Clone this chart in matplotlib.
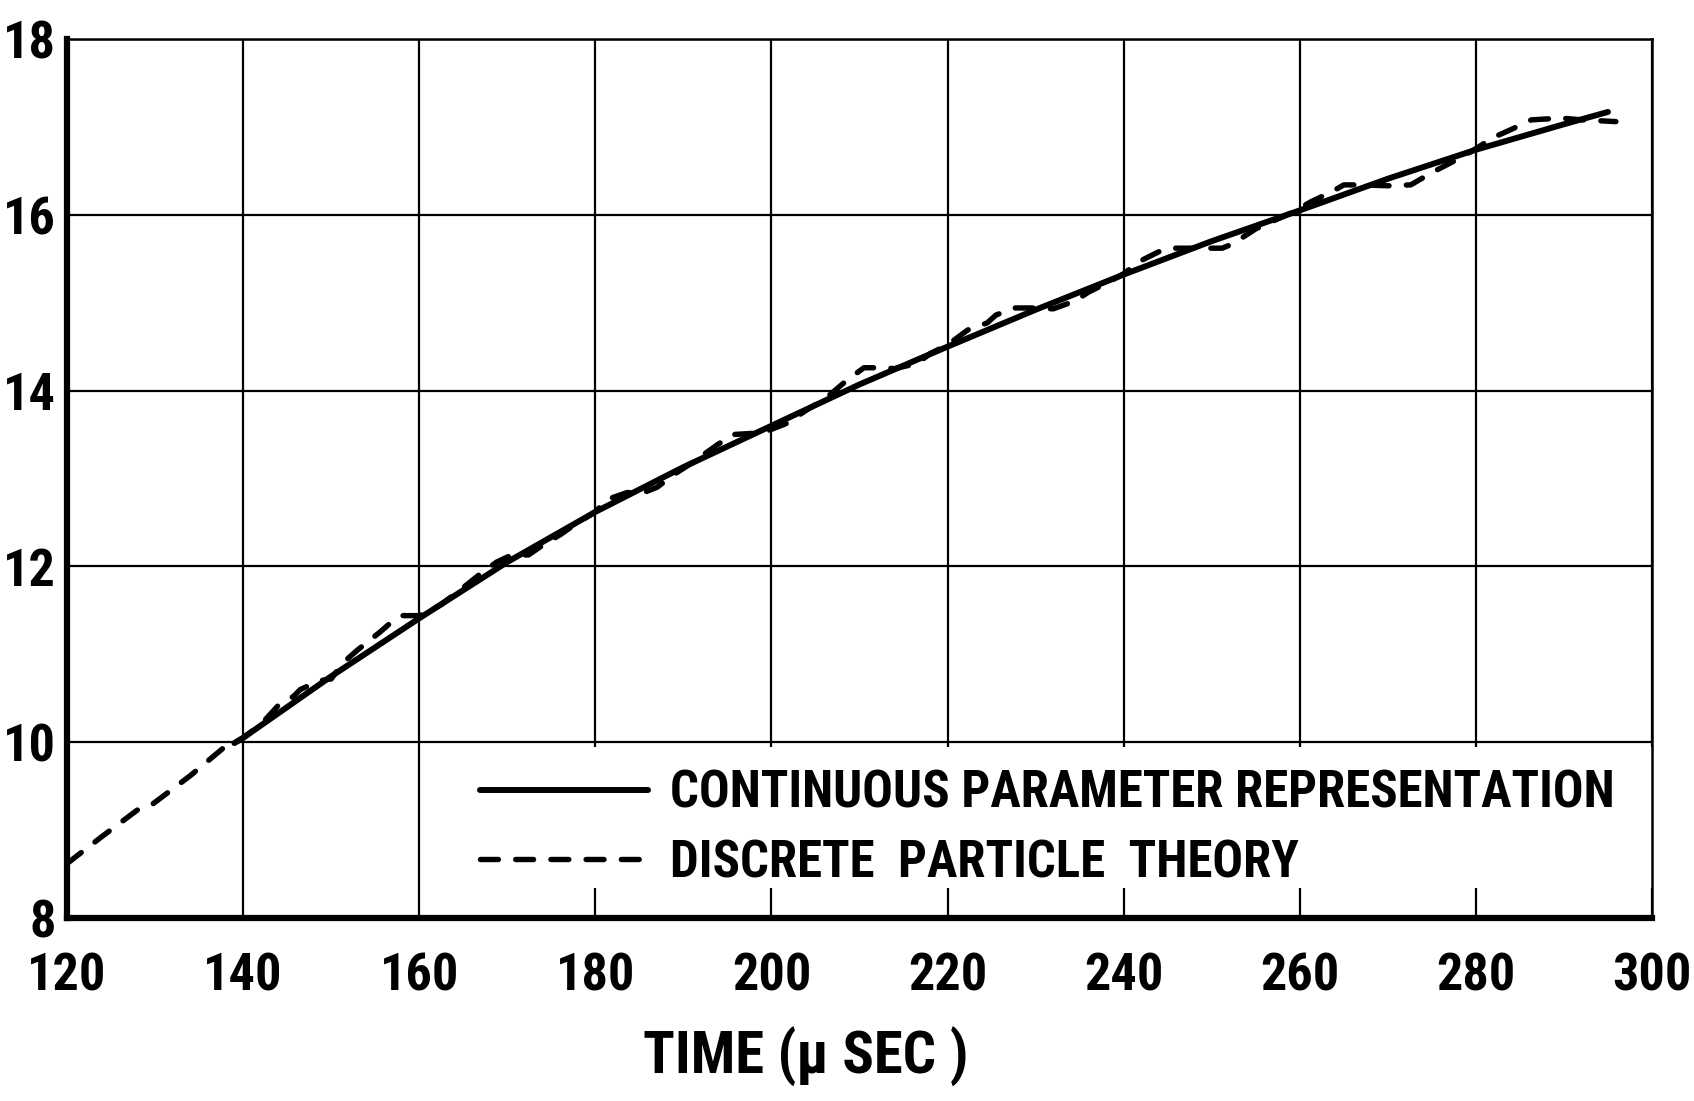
import math
import matplotlib
matplotlib.use('Agg')
import matplotlib.pyplot as plt
import matplotlib.patches as mpatches
from matplotlib import font_manager
from matplotlib.font_manager import FontProperties
from matplotlib.textpath import TextPath

# DATA
# continuous parameter representation (solid)
cont_t = [139, 140, 150, 160, 170, 180, 190, 200, 210, 220, 230, 240,
          250, 260, 270, 280, 290, 295]
cont_y = [9.99, 10.05, 10.75, 11.41, 12.05, 12.62, 13.13, 13.60, 14.07, 14.50,
          14.92, 15.32, 15.70, 16.05, 16.41, 16.74, 17.03, 17.17]

# discrete particle theory (dashed)
disc_t = [120, 124, 128, 129.5, 134, 137.7, 139, 140,
          142, 144, 145.7, 146.5, 148.7, 150, 151.3, 153, 155.5, 157, 158, 160,
          162.4, 165, 167, 168.8, 170.5, 172.4, 174, 176, 178, 180,
          181.3, 183.6, 185.5, 187, 189, 191, 193.8, 195.6, 199, 201.8,
          204, 206, 208.6, 210.5, 212.3, 214, 216.6, 218, 220,
          222.3, 224.5, 225.5, 227.6, 229.4, 232, 234.5, 236, 238, 240,
          242, 244, 245.3, 247.5, 251.2, 252.4, 255, 257, 259,
          261.3, 263.6, 265, 267, 270, 272.6, 275, 277.5, 279.8,
          282, 284, 286.3, 289.7, 292, 295.9]
disc_y = [8.62, 8.93, 9.23, 9.28, 9.62, 9.93, 9.99, 10.05,
          10.20, 10.42, 10.52, 10.60, 10.70, 10.72, 10.90, 11.05, 11.25, 11.38, 11.44, 11.44,
          11.56, 11.76, 11.92, 12.05, 12.13, 12.13, 12.24, 12.36, 12.50, 12.62,
          12.76, 12.84, 12.84, 12.90, 13.05, 13.18, 13.38, 13.50, 13.52, 13.63,
          13.78, 13.90, 14.12, 14.26, 14.26, 14.25, 14.31, 14.42, 14.52,
          14.69, 14.77, 14.86, 14.94, 14.94, 14.93, 15.02, 15.12, 15.22, 15.33,
          15.48, 15.58, 15.62, 15.62, 15.62, 15.67, 15.84, 15.93, 16.02,
          16.15, 16.26, 16.34, 16.34, 16.33, 16.34, 16.48, 16.61, 16.74,
          16.88, 16.97, 17.08, 17.10, 17.08, 17.06]

x_ticks = [120, 140, 160, 180, 200, 220, 240, 260, 280, 300]
y_ticks = [8, 10, 12, 14, 16, 18]
label_cont = 'CONTINUOUS PARAMETER REPRESENTATION'
label_disc = 'DISCRETE  PARTICLE  THEORY'
x_label = 'TIME (μ SEC )'


# --- font: want a narrow bold face like the old lettering guide ---
def _w(v):
    if isinstance(v, str):
        return {'bold': 700, 'heavy': 800, 'black': 900, 'semibold': 600,
                'demibold': 600}.get(v.lower(), 400)
    return int(v)


def pick_font():
    narrow = []
    for f in font_manager.fontManager.ttflist:
        st = str(f.stretch).lower()
        is_narrow = ('narrow' in f.name.lower() or 'condensed' in f.name.lower()
                     or 'condensed' in st)
        if is_narrow and _w(f.weight) >= 600 and f.style == 'normal':
            narrow.append(f)
    order = ['Liberation Sans Narrow', 'Roboto Condensed', 'Noto Sans',
             'Open Sans', 'DejaVu Sans']
    for name in order:
        for f in narrow:
            if f.name.startswith(name):
                return f.fname
    if narrow:
        return narrow[0].fname
    return font_manager.findfont(FontProperties(family='DejaVu Sans', weight='bold'))


FONT_FILE = pick_font()


def size_for(text, target_w, target_h, mode='min'):
    # font size (pt) so that the text is about target_w x target_h pixels (dpi 100)
    fp = FontProperties(fname=FONT_FILE)
    w100 = TextPath((0, 0), text, size=100, prop=fp).get_extents().width
    h100 = TextPath((0, 0), 'H0', size=100, prop=fp).get_extents().height
    s_w = target_w * 72.0 / w100
    s_h = target_h * 72.0 / h100
    if mode == 'min':
        return min(s_w, s_h)
    return min(math.sqrt(s_w * s_h), 1.12 * s_w)


tick_size = size_for('120', 65, 43, mode='mean')
leg_size = size_for(label_cont, 940, 45)
xlab_size = size_for(x_label, 321, 45)

tick_fp = FontProperties(fname=FONT_FILE, size=tick_size)
leg_fp = FontProperties(fname=FONT_FILE, size=leg_size)
xlab_fp = FontProperties(fname=FONT_FILE, size=xlab_size)

# PLOT
fig = plt.figure(figsize=(16.94, 11.01), dpi=100)
ax = fig.add_axes([0.0396, 0.1662, 0.9356, 0.7984])

ax.plot(cont_t, cont_y, color='black', lw=4.3, solid_capstyle='round', zorder=3,
        label=label_cont)
ax.plot(disc_t, disc_y, color='black', lw=3.9, dashes=(3.3, 3.2),
        dash_capstyle='round', dash_joinstyle='round', zorder=3, label=label_disc)

ax.set_xlim(120, 300)
ax.set_ylim(8, 18)
ax.set_xticks(x_ticks)
ax.set_yticks(y_ticks)
ax.set_xticklabels([str(v) for v in x_ticks])
ax.set_yticklabels([str(v) for v in y_ticks])
for lab in ax.get_xticklabels() + ax.get_yticklabels():
    lab.set_fontproperties(tick_fp)
ax.tick_params(axis='both', length=0)
ax.tick_params(axis='x', pad=24)
ax.tick_params(axis='y', pad=8)

# graph paper look
ax.set_axisbelow(True)
ax.grid(True, color='black', lw=1.6)
ax.spines['left'].set_linewidth(4.5)
ax.spines['bottom'].set_linewidth(4.5)
ax.spines['top'].set_linewidth(1.8)
ax.spines['right'].set_linewidth(1.8)

# white patch behind the legend (hides the grid there)
box = mpatches.Rectangle((0.245, 0.034), 0.755, 0.161, transform=ax.transAxes,
                         facecolor='white', edgecolor='none', zorder=1)
ax.add_patch(box)

em_px = leg_size * 100 / 72.0
leg = ax.legend(loc='center left', bbox_to_anchor=(0.2606, 0.102), frameon=False,
                prop=leg_fp, handlelength=168 / em_px, handletextpad=22 / em_px,
                labelspacing=max(0.0, (79 - 1.17 * em_px) / em_px),
                borderpad=0, borderaxespad=0)
leg.set_zorder(5)

ax.set_xlabel(x_label, fontproperties=xlab_fp)
ax.xaxis.set_label_coords(0.466, -0.124)

fig.savefig('out.png', dpi=100)
